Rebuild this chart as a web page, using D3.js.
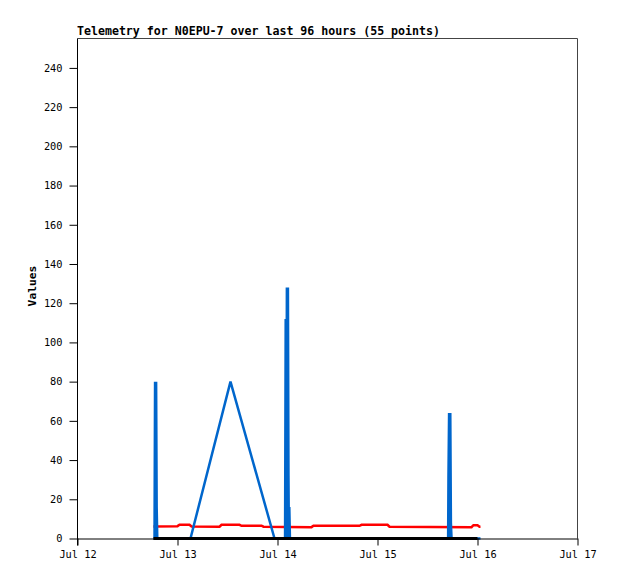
<!DOCTYPE html>
<html>
<head>
<meta charset="utf-8">
<script src="https://cdn.jsdelivr.net/npm/d3@7"></script>
<style>
  html, body { margin: 0; padding: 0; background: #fff; }
  svg { display: block; }
  text { font-family: "DejaVu Sans Mono", "Liberation Mono", monospace; }
</style>
</head>
<body>
<svg id="chart" width="618" height="579"></svg>
<script>
// ---- data ----
const titleText = "Telemetry for N0EPU-7 over last 96 hours (55 points)";
const yLabel = "Values";

const redTimes = [
  "2023-07-12T18:14","2023-07-13T00:00","2023-07-13T00:29","2023-07-13T02:53","2023-07-13T03:22",
  "2023-07-13T10:05","2023-07-13T10:34","2023-07-13T14:53","2023-07-13T15:22","2023-07-13T20:10",
  "2023-07-13T20:38","2023-07-14T08:10","2023-07-14T08:38","2023-07-14T19:41","2023-07-14T20:10",
  "2023-07-15T02:24","2023-07-15T02:53","2023-07-15T22:34","2023-07-15T23:02","2023-07-16T00:00",
  "2023-07-16T00:29","2023-07-16T00:43"
];
const redValues = [
  6.1, 6.3, 7, 7, 6.1,
  6, 7, 7, 6.5, 6.5,
  6, 5.8, 6.5, 6.5, 7,
  7, 6, 5.8, 6.8, 6.8,
  6, 6
];

const blueTimes = [
  "2023-07-12T18:14","2023-07-12T18:29","2023-07-12T18:37","2023-07-12T18:46","2023-07-12T18:52",
  "2023-07-12T19:00","2023-07-12T19:09","2023-07-13T03:07","2023-07-13T12:43","2023-07-13T23:17",
  "2023-07-14T01:49","2023-07-14T01:58","2023-07-14T02:07","2023-07-14T02:15","2023-07-14T02:24",
  "2023-07-14T02:30","2023-07-14T02:38","2023-07-14T02:44","2023-07-14T02:50","2023-07-14T02:59",
  "2023-07-15T16:57","2023-07-15T17:02","2023-07-15T17:11","2023-07-15T17:20","2023-07-15T17:28",
  "2023-07-15T17:37","2023-07-15T17:46","2023-07-16T00:43"
];
const blueValues = [
  0, 0, 80, 0, 80,
  16, 0, 0, 80, 0,
  0, 112, 0, 128, 0,
  128, 32, 0, 16, 0,
  0, 32, 64, 0, 64,
  8, 0, 0
];

const blackTimes = ["2023-07-12T18:14", "2023-07-16T00:00"];
const blackValues = [0, 0];

const xDomain = ["2023-07-12T00:00", "2023-07-17T00:00"];
const yDomain = [0, 255];
const yTicks = [0, 20, 40, 60, 80, 100, 120, 140, 160, 180, 200, 220, 240];

// ---- drawing ----
const parse = d3.utcParse("%Y-%m-%dT%H:%M");
const svg = d3.select("#chart");
const L = 77.5, R = 577.5, T = 38.5, B = 538.5;

const x = d3.scaleUtc().domain(xDomain.map(parse)).range([L, R]);
const y = d3.scaleLinear().domain(yDomain).range([B, T]);

function series(ts, vals) {
  return ts.map((t, i) => ({ t: parse(t), v: vals[i] }));
}
const line = d3.line().x(p => x(p.t)).y(p => y(p.v));

// frame (top and right)
svg.append("path")
  .attr("d", `M${L},${T}H${R}V${B}`)
  .attr("fill", "none").attr("stroke", "#444").attr("stroke-width", 1);

// data lines
const plot = svg.append("g");
plot.append("path").datum(series(redTimes, redValues))
  .attr("d", line).attr("fill", "none").attr("stroke", "#ff0000")
  .attr("stroke-width", 2.5).attr("stroke-linejoin", "miter");
plot.append("path").datum(series(blueTimes, blueValues))
  .attr("d", line).attr("fill", "none").attr("stroke", "#0066cc")
  .attr("stroke-width", 2.5).attr("stroke-linejoin", "bevel");
plot.append("path").datum(series(blackTimes, blackValues))
  .attr("d", line).attr("fill", "none").attr("stroke", "#000").attr("stroke-width", 3);

// y axis
const yAxis = d3.axisLeft(y).tickValues(yTicks).tickSize(8).tickPadding(7).tickSizeOuter(0);
const gy = svg.append("g").attr("transform", `translate(${L},0)`).call(yAxis);
gy.select(".domain").attr("d", `M0,${T}V${B + 7}`).attr("stroke", "#000");
gy.selectAll("line").attr("stroke", "#000");
gy.selectAll("text").attr("font-size", 10.3).attr("fill", "#000")
  .attr("font-family", "DejaVu Sans Mono, monospace");

// x axis
const xAxis = d3.axisBottom(x).ticks(d3.utcDay.every(1))
  .tickFormat(d3.utcFormat("%b %d")).tickSize(7).tickPadding(5).tickSizeOuter(0);
const gx = svg.append("g").attr("transform", `translate(0,${B})`).call(xAxis);
gx.select(".domain").attr("stroke", "#000");
gx.selectAll("line").attr("stroke", "#000");
gx.selectAll("text").attr("font-size", 10.3).attr("fill", "#000")
  .attr("font-family", "DejaVu Sans Mono, monospace");

// title
svg.append("text").attr("x", 77).attr("y", 35)
  .attr("font-size", 11.6).attr("font-weight", "bold").attr("fill", "#000")
  .text(titleText);

// y label
svg.append("text")
  .attr("transform", "translate(36,286) rotate(-90)")
  .attr("text-anchor", "middle")
  .attr("font-size", 11.3).attr("font-weight", "bold").attr("fill", "#000")
  .text(yLabel);
</script>
</body>
</html>
